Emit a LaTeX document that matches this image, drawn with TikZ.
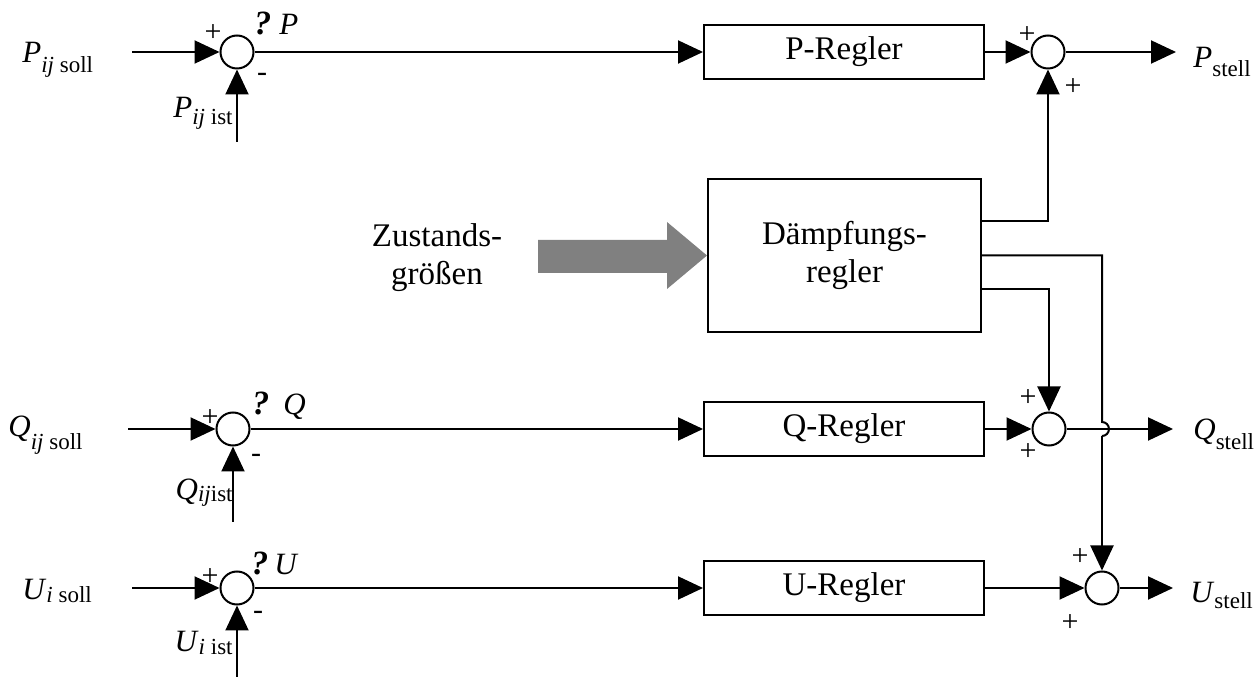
\documentclass[tikz,border=0pt]{standalone}
\usepackage{fontspec}
\setmainfont{Liberation Serif}
\usetikzlibrary{arrows.meta}

\definecolor{pfeilgrau}{RGB}{128,128,128}

% Signalname mit tiefgestelltem Index
\newcommand{\sgl}[3]{\textit{#1}\raisebox{-#3}{\fontsize{11.5}{11.5}\selectfont #2}}
\newcommand{\dlt}{{\fontsize{17}{17}\selectfont\textbf{\textit{?}}}}

\tikzset{
  summe/.style={draw, circle, line width=1pt, minimum size=16.5pt, inner sep=0pt},
  regler/.style={draw, line width=1pt, minimum width=140pt, minimum height=27pt, inner sep=0pt},
  sig/.style={-{Triangle[length=12.5pt,width=11.5pt]}, line width=1pt},
  wire/.style={line width=1pt},
  vz/.style={inner sep=0pt, font=\fontsize{15}{15}\selectfont},
  var/.style={inner sep=0pt, font=\fontsize{15.5}{15.5}\selectfont},
}

\begin{document}
\begin{tikzpicture}[x=0.5pt, y=-0.5pt, font=\fontsize{16.5}{19}\selectfont]
\useasboundingbox (0,0) rectangle (1260,678);

% Summierstellen
\node[summe] (sumP) at (237,52) {};
\node[summe] (sumQ) at (233,429) {};
\node[summe] (sumU) at (237,588) {};
\node[summe] (sumPr) at (1048,52) {};
\node[summe] (sumQr) at (1049,429) {};
\node[summe] (sumUr) at (1102,588) {};

% Regler
\node[regler] (regP) at (844,52) {P-Regler};
\node[regler] (regQ) at (844,429) {Q-Regler};
\node[regler] (regU) at (844,588) {U-Regler};
\node[regler, minimum width=136.5pt, minimum height=76.5pt, align=center] (daempf) at (844.5,255.5) {Dämpfungs-\\regler};

% Eingaenge
\coordinate (inP) at (132,52);
\coordinate (inQ) at (128,429);
\coordinate (inU) at (132,588);
\coordinate (istP) at (237,142);
\coordinate (istQ) at (233,522);
\coordinate (istU) at (237,677);
\draw[sig] (inP) -- (sumP);
\draw[sig] (inQ) -- (sumQ);
\draw[sig] (inU) -- (sumU);
\draw[sig] (istP) -- (sumP);
\draw[sig] (istQ) -- (sumQ);
\draw[sig] (istU) -- (sumU);

\draw[sig] (sumP) -- (regP);
\draw[sig] (sumQ) -- (regQ);
\draw[sig] (sumU) -- (regU);
\draw[sig] (regP) -- (sumPr);
\draw[sig] (regQ) -- (sumQr);
\draw[sig] (regU) -- (sumUr);

% Ausgaenge
\coordinate (outP) at (1176,52);
\coordinate (outQ) at (1173,429);
\coordinate (outU) at (1173,588);
\draw[sig] (sumPr) -- (outP);
\draw[sig] (sumQr) -- (outQ);
\draw[sig] (sumUr) -- (outU);

% Daempfungsregler
\draw[sig] ([yshift=17.25pt]daempf.east) -| (sumPr);
\draw[sig] ([yshift=-16.75pt]daempf.east) -| (sumQr);
\draw[wire] (daempf.east) -| ([yshift=3.5pt]sumUr |- sumQr) arc[start angle=90, end angle=-90, radius=3.5pt];
\draw[sig] ([yshift=-3.5pt]sumUr |- sumQr) -- (sumUr);

\fill[pfeilgrau] (538,240) -- (667,240) -- (667,222) -- (daempf.west) -- (667,289) -- (667,273) -- (538,273) -- cycle;
\node[align=center] (zust) at (437,258) {Zustands-\\größen};

% Beschriftung
\node[var, anchor=base west] (lPsoll) at (22,63) {\sgl{P}{\textit{ij} soll}{5pt}};
\node[var, anchor=base west] (lQsoll) at (8,437) {\sgl{Q}{\textit{ij} soll}{6.5pt}};
\node[var, anchor=base west] (lUsoll) at (22,600) {\sgl{U}{\textit{i} soll}{1.5pt}};
\node[var, anchor=base east] (lPist) at (233,118) {\sgl{P}{\textit{ij} ist}{3.5pt}};
\node[var, anchor=base east] (lQist) at (233,500) {\sgl{Q}{\textit{ij}ist}{1pt}};
\node[var, anchor=base east] (lUist) at (233,652) {\sgl{U}{\textit{i} ist}{1.5pt}};
\node[var, anchor=base west] (lPstell) at (1193,68) {\sgl{P}{stell}{4.5pt}};
\node[var, anchor=base west] (lQstell) at (1193,440) {\sgl{Q}{stell}{5pt}};
\node[var, anchor=base west] (lUstell) at (1190,603) {\sgl{U}{stell}{3pt}};

\node[var, anchor=base west] (dP) at (254,35) {\dlt\hspace{4pt}\textit{P}};
\node[var, anchor=base west] (dQ) at (252,415) {\dlt\hspace{7pt}\textit{Q}};
\node[var, anchor=base west] (dU) at (251,575) {\dlt\hspace{3pt}\textit{U}};

% Vorzeichen
\node[vz] (vP1) at (213,33) {+};
\node[vz] (vP2) at (262,77) {-};
\node[vz] (vQ1) at (210,418) {+};
\node[vz] (vQ2) at (256,458) {-};
\node[vz] (vU1) at (210,577) {+};
\node[vz] (vU2) at (258,615) {-};
\node[vz] (vPr1) at (1027,35) {+};
\node[vz] (vPr2) at (1073,87) {+};
\node[vz] (vQr1) at (1028,398) {+};
\node[vz] (vQr2) at (1028,452) {+};
\node[vz] (vUr1) at (1080,557) {+};
\node[vz] (vUr2) at (1070,623) {+};
\end{tikzpicture}
\end{document}
